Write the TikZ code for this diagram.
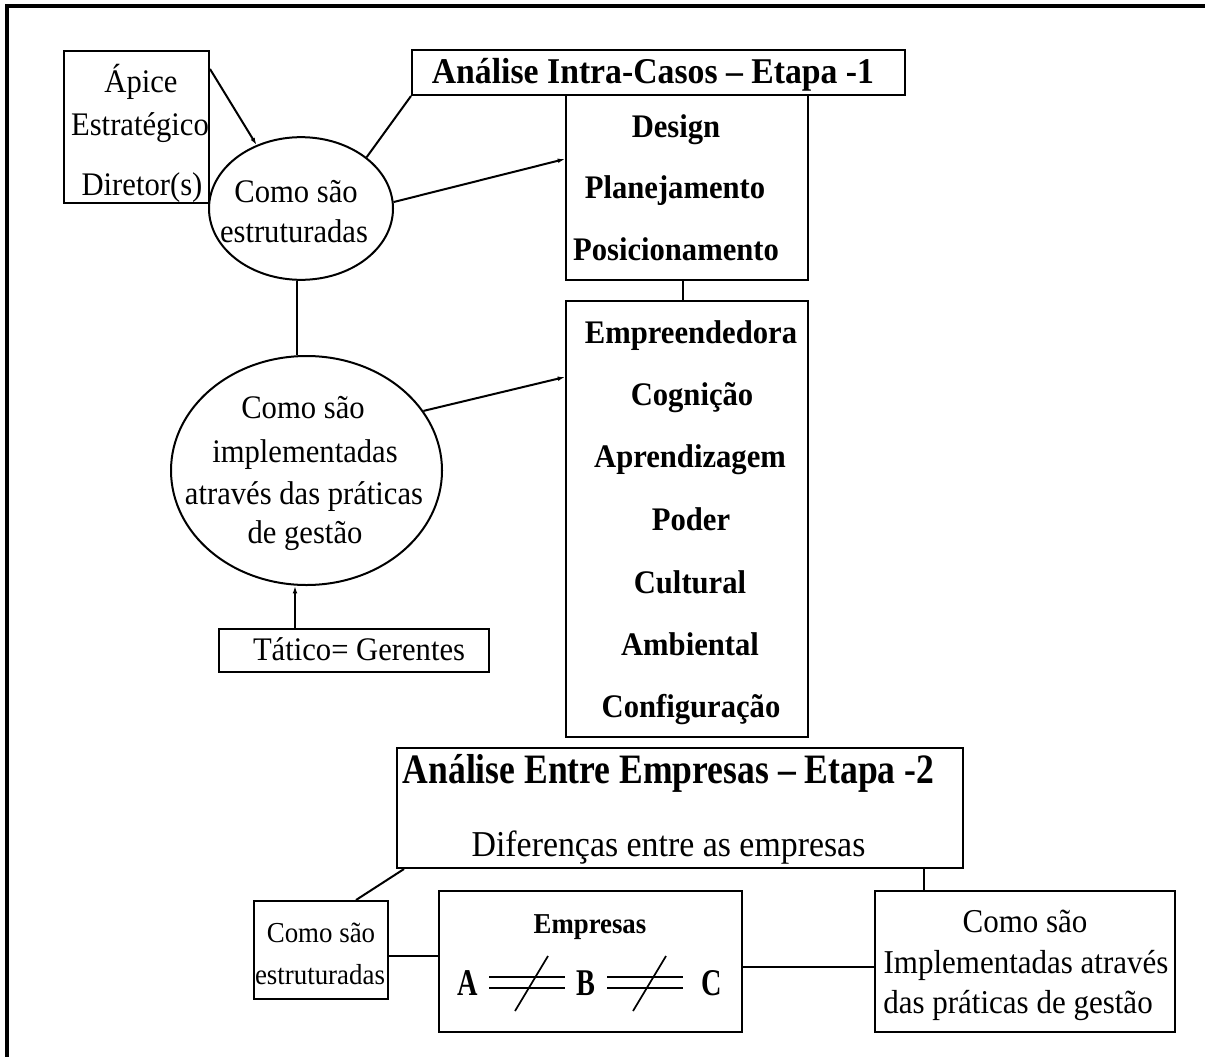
\documentclass[tikz,border=0pt]{standalone}
\usepackage{fontspec}
\setmainfont{Liberation Serif}[FakeStretch=0.93]
\newfontfamily\titleserif{Liberation Serif}[FakeStretch=0.85]
\newfontfamily\narrowserif{Liberation Serif}[FakeStretch=0.75]
\usetikzlibrary{shapes.geometric, fit, calc, arrows.meta}

\begin{document}
\begin{tikzpicture}[x=0.75pt, y=-0.75pt,
  frame/.style={draw, line width=1.5pt, inner sep=0pt},
  box/.style={frame, rectangle},
  oval/.style={frame, ellipse},
  txt/.style={anchor=base, inner sep=0pt, font=\fontsize{24.7}{30}\selectfont},
  btxt/.style={anchor=base, inner sep=0pt, font=\bfseries\fontsize{24.7}{30}\selectfont},
  link/.style={line width=1.5pt},
  arr/.style={link, -{Latex[length=5.5pt,width=3.5pt]}},
  neq/.style={line width=1.3pt}
]
\useasboundingbox (0,0) rectangle (1205,1056);
\fill[white] (0,0) rectangle (1205,1056);
\clip (0,0) rectangle (1205,1056);

% page frame (runs past the right and bottom edges)
\draw[line width=2.4pt] (7,6) rectangle (1240,1090);

% ---- stage 1 ----
\node[box, fit={(64,51) (209,203)}] (apice) {};
\node[txt] (apice1) at (141,92) {Ápice};
\node[txt] (apice2) at (140,135) {Estratégico};
\node[txt] (apice3) at (142,195) {Diretor(s)};

\node[oval, minimum width=138pt, minimum height=107pt] (ell1) at (301,208.5) {};
\node[txt] (ell1a) at (296,202) {Como são};
\node[txt] (ell1b) at (294,242) {estruturadas};

\node[box, fit={(412,50) (905,95)}] (title1) {};
\node[btxt, font=\bfseries\fontsize{27.2}{32}\selectfont] (title1t) at (653,84) {Análise Intra-Casos – Etapa -1};

\node[box, fit={(566,95) (808,280)}] (design) {};
\node[btxt] (d1) at (676,137) {Design};
\node[btxt] (d2) at (675,198) {Planejamento};
\node[btxt] (d3) at (676,260) {Posicionamento};

\node[box, fit={(566,301) (808,737)}] (empr) {};
\node[btxt] (e1) at (691,343) {Empreendedora};
\node[btxt] (e2) at (692,405) {Cognição};
\node[btxt] (e3) at (690,467) {Aprendizagem};
\node[btxt] (e4) at (691,530) {Poder};
\node[btxt] (e5) at (690,593) {Cultural};
\node[btxt] (e6) at (690,655) {Ambiental};
\node[btxt] (e7) at (691,717) {Configuração};

\node[oval, minimum width=203.25pt, minimum height=171.75pt] (ell2) at (306.5,470.5) {};
\node[txt] (ell2a) at (303,418) {Como são};
\node[txt] (ell2b) at (305,462) {implementadas};
\node[txt] (ell2c) at (304,504) {através das práticas};
\node[txt] (ell2d) at (305,543) {de gestão};

\node[box, fit={(219,629) (489,672)}] (tatico) {};
\node[txt] (taticot) at (359,660) {Tático= Gerentes};

% stage 1 connectors
\draw[arr] ([yshift=-14.25pt]apice.north east) -- (ell1.125);
\draw[link] (title1.south west) -- (ell1.38);
\draw[arr] (ell1.4) -- ([yshift=-48.75pt]design.north west);
\coordinate (j0) at ($(design.south)+(-4,0)$);
\draw[link] (j0) -- (j0 |- empr.north);
\coordinate (j1) at ($(ell1.south)+(-4,0)$);
\draw[link] (j1) -- (j1 |- ell2.north);
\draw[arr] (ell2.27) -- ([yshift=-57.75pt]empr.north west);
\coordinate (j2) at ($(tatico.north west)+(77,0)$);
\draw[arr] (j2) -- (j2 |- ell2.south);

% ---- stage 2 ----
\node[box, fit={(397,748) (963,868)}] (title2) {};
\node[anchor=base, inner sep=0pt, font=\titleserif\bfseries\fontsize{31.4}{36}\selectfont] (title2t) at (668.5,783) {Análise Entre Empresas – Etapa -2};
\node[txt, font=\fontsize{27.3}{32}\selectfont] (title2s) at (668.5,856) {Diferenças entre as empresas};

\node[box, fit={(254,901) (388,999)}] (left) {};
\node[txt, font=\fontsize{21.7}{26}\selectfont] (left1) at (321,942) {Como são};
\node[txt, font=\fontsize{21.7}{26}\selectfont] (left2) at (320,984) {estruturadas};

\node[box, fit={(439,891) (742,1032)}] (empresas) {};
\node[btxt, font=\bfseries\fontsize{21.6}{26}\selectfont] (emptitle) at (590,933) {Empresas};
\node[anchor=base, inner sep=0pt, font=\narrowserif\bfseries\fontsize{28.3}{32}\selectfont] (A) at (467.5,995) {A};
\node[anchor=base, inner sep=0pt, font=\narrowserif\bfseries\fontsize{28.3}{32}\selectfont] (B) at (585.5,995) {B};
\node[anchor=base, inner sep=0pt, font=\narrowserif\bfseries\fontsize{28.3}{32}\selectfont] (C) at (712,995) {C};

\node[box, fit={(875,891) (1175,1032)}] (right) {};
\node[txt, font=\fontsize{25}{30}\selectfont] (right1) at (1025,932) {Como são};
\node[txt, font=\fontsize{25}{30}\selectfont] (right2) at (1026,973) {Implementadas através};
\node[txt, font=\fontsize{25}{30}\selectfont] (right3) at (1018,1013) {das práticas de gestão};

% "not equal" signs between the companies
\coordinate (n1) at (531.5,983.5);
\coordinate (n2) at (649.5,983.5);
\draw[neq] (489,977) -- (565,977) (489,988) -- (565,988);
\draw[neq] ($(n1)+(-16.5,27.5)$) -- ($(n1)+(16.5,-27.5)$);
\draw[neq] (607,977) -- (683,977) (607,988) -- (683,988);
\draw[neq] ($(n2)+(-16.5,27.5)$) -- ($(n2)+(16.5,-27.5)$);

% stage 2 connectors
\draw[link] ($(title2.south west)+(8,0)$) -- ($(left.north)+(35,0)$);
\coordinate (j3) at ($(left.east)+(0,6)$);
\draw[link] (j3) -- (j3 -| empresas.west);
\coordinate (j4) at ($(empresas.east)+(0,5)$);
\draw[link] (j4) -- (j4 -| right.west);
\coordinate (j5) at ($(right.north)+(-101,0)$);
\draw[link] (j5 |- title2.south) -- (j5);
\end{tikzpicture}
\end{document}
